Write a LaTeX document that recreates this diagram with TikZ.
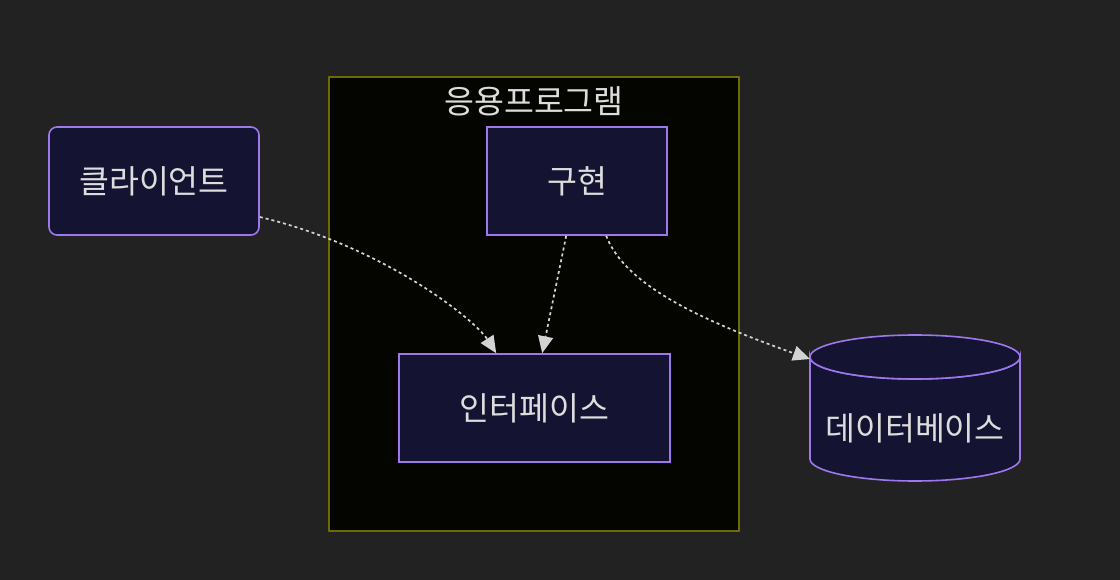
\documentclass[tikz,border=0pt]{standalone}
\usepackage{fontspec}
\newfontfamily\kr{Noto Sans CJK KR}
\usetikzlibrary{arrows.meta,calc}
\definecolor{bgc}{HTML}{222222}
\definecolor{clfill}{HTML}{050500}
\definecolor{cldraw}{HTML}{6B6B00}
\definecolor{nfill}{HTML}{141432}
\definecolor{ndraw}{HTML}{9C78EC}
\definecolor{txt}{HTML}{DDDDDD}
\definecolor{edge}{HTML}{D3D3D3}
\tikzset{
  kfont/.style={font=\kr\fontsize{32.5}{38}\selectfont},
  box/.style={draw=ndraw, fill=nfill, line width=1.6pt, text=txt, kfont, inner sep=0pt},
  lnk/.style={draw=edge, line width=1.7pt, dash pattern=on 3pt off 3pt, -{Triangle[length=17pt,width=15pt,fill=edge]}}
}
\begin{document}
\begin{tikzpicture}[x=1pt,y=-1pt]
\useasboundingbox (0,0) rectangle (1120,580);
\fill[bgc] (0,0) rectangle (1120,580);
% cluster
\node[draw=cldraw, fill=clfill, line width=1.6pt, minimum width=410pt, minimum height=454pt, inner sep=0pt] (app) at (534,304) {};
\node[text=txt, kfont, inner sep=0pt] (apptitle) at (534,101) {응용프로그램};
% nodes
\node[box, rounded corners=8pt, minimum width=210pt, minimum height=108pt] (cl) at (154,181) {클라이언트};
\node[box, minimum width=180pt, minimum height=108pt] (impl) at (577,181) {구현};
\node[box, minimum width=271pt, minimum height=108pt] (intf) at (534.5,408) {인터페이스};
% database cylinder
\filldraw[draw=ndraw, fill=nfill, line width=1.6pt] (810,357) -- (810,459) arc[start angle=180, end angle=0, x radius=105, y radius=22] -- (1020,357) arc[start angle=0, end angle=180, x radius=105, y radius=22] -- cycle;
\filldraw[draw=ndraw, fill=nfill, line width=1.6pt] (915,357) ellipse [x radius=105, y radius=22];
\node[text=txt, kfont, inner sep=0pt] (db) at (915,428) {데이터베이스};
\coordinate (dbin) at (810,359);
% edges
\draw[lnk] ($(cl.east)+(0,36)$) .. controls (385,247) and (475,320) .. ($(intf.north west)+(98,0)$);
\draw[lnk] ($(impl.south west)+(80,0)$) -- ($(intf.north west)+(144,0)$);
\draw[lnk] ($(impl.south west)+(120,0)$) .. controls (625,285) and (700,320) .. (dbin);
\end{tikzpicture}
\end{document}
